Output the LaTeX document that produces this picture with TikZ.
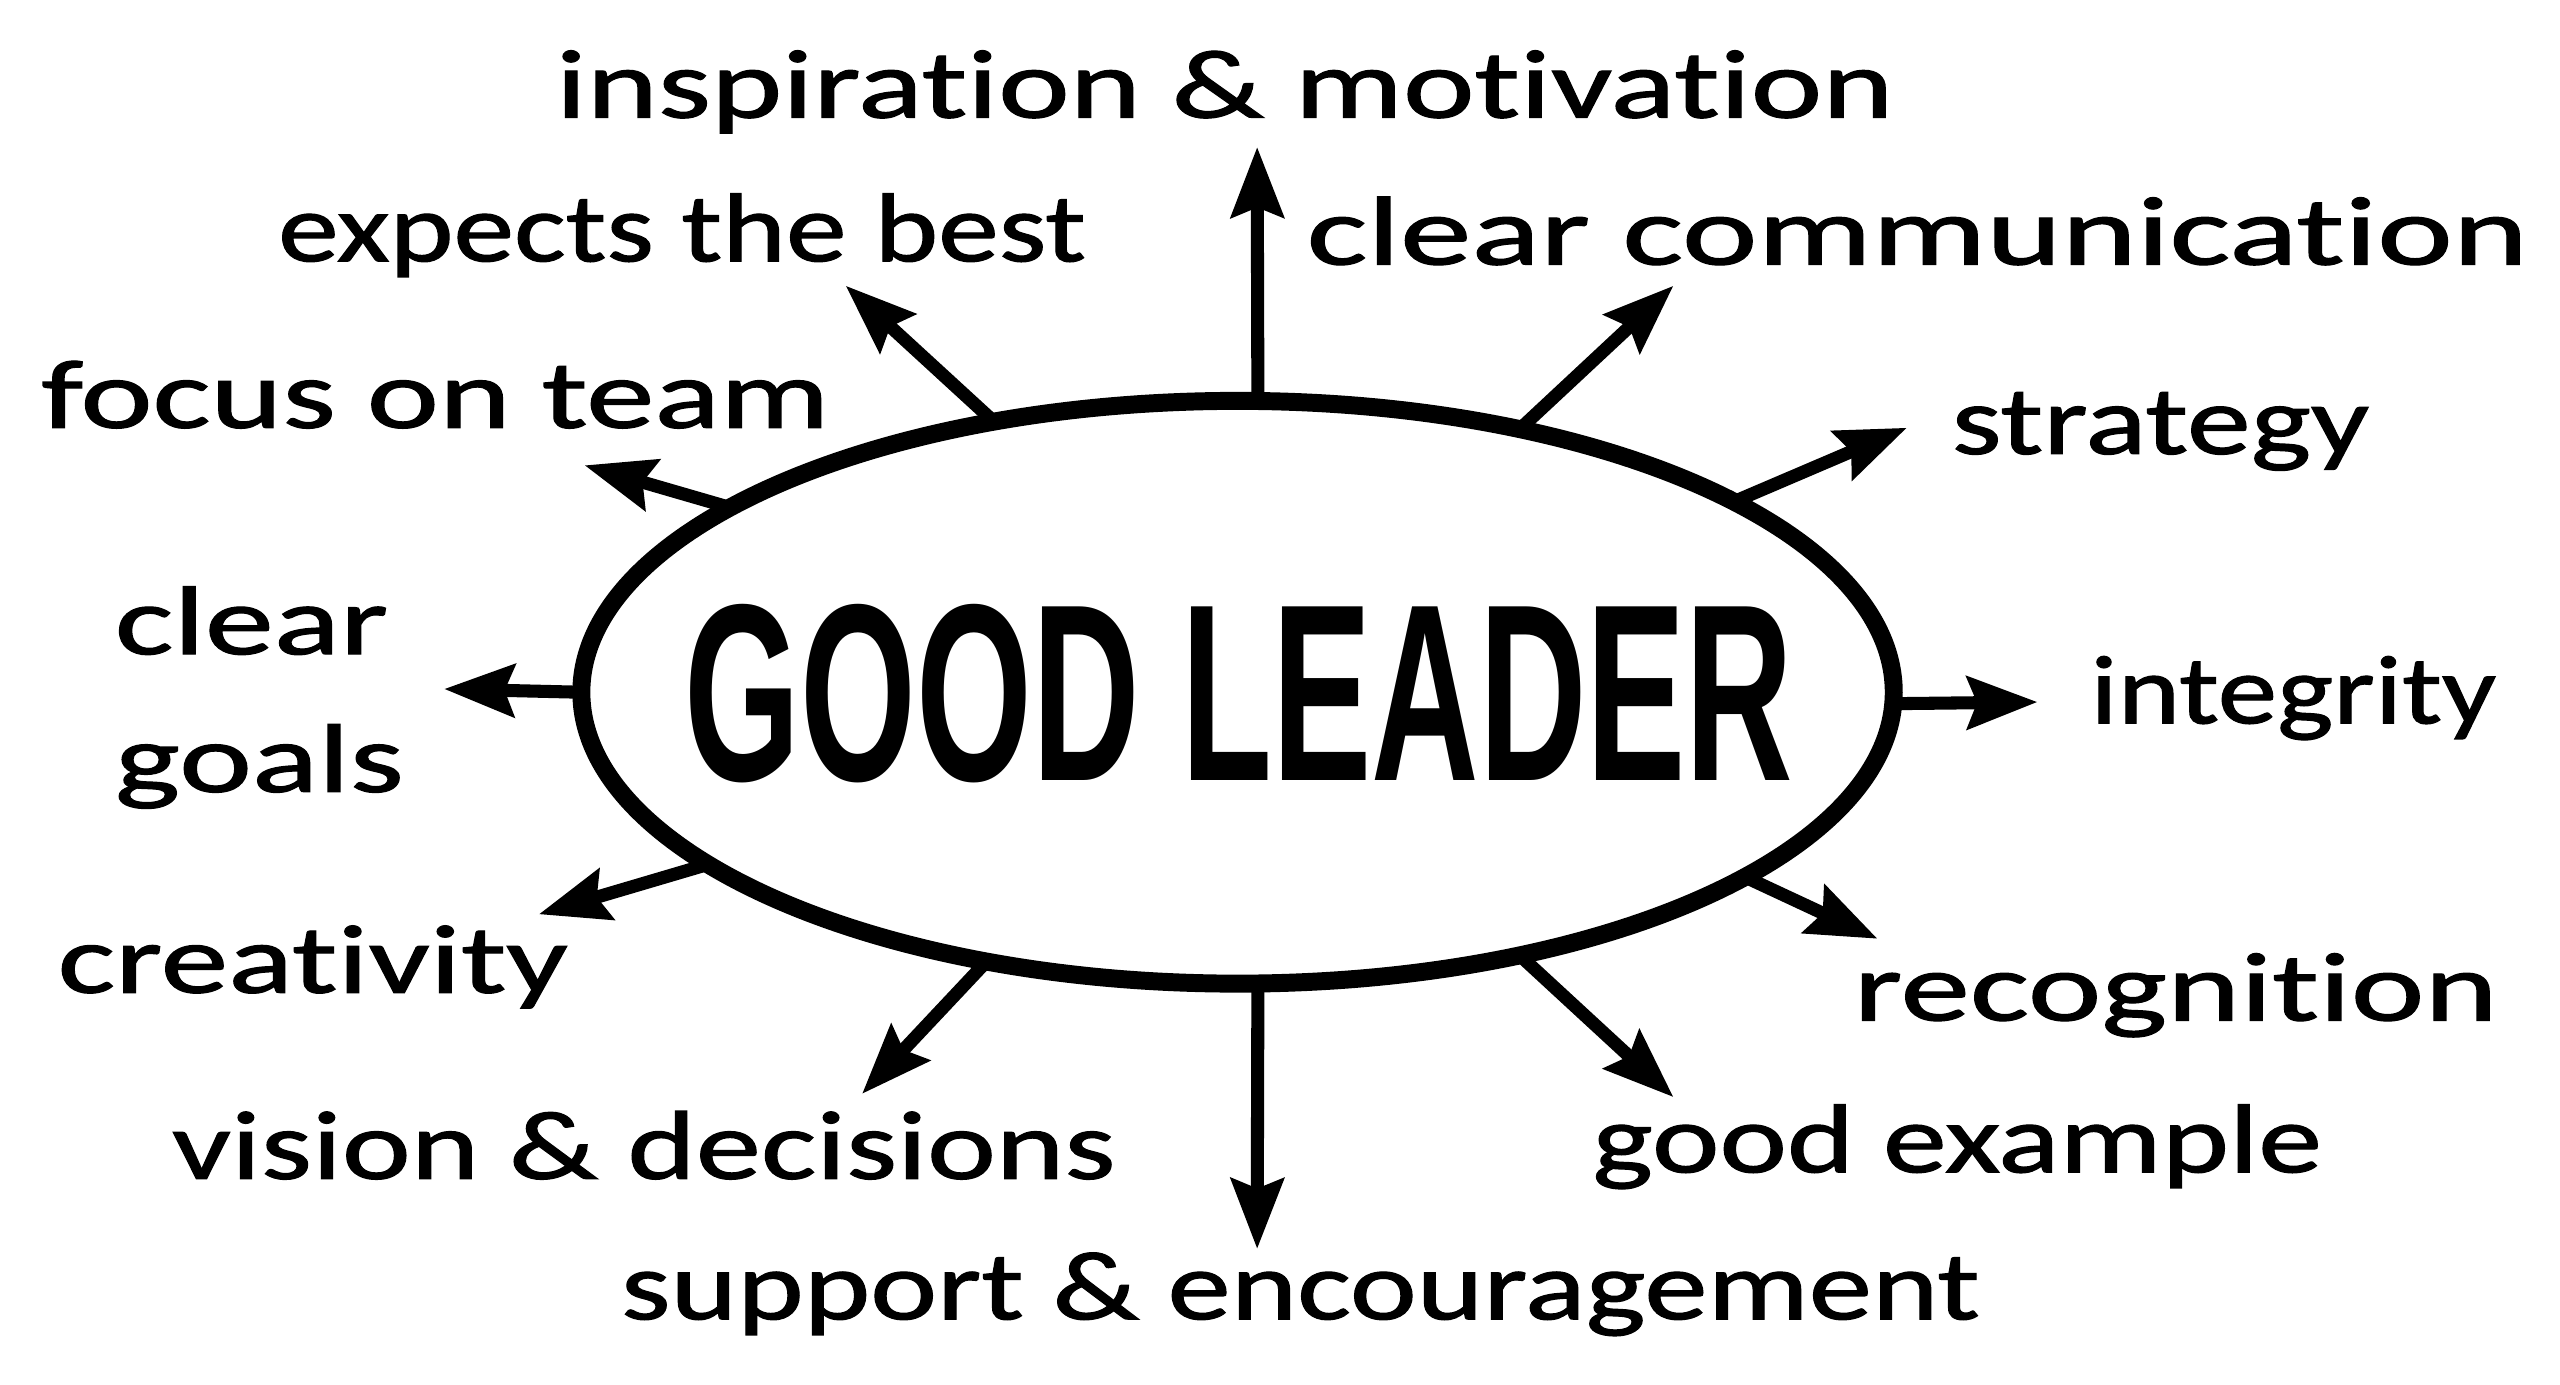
\documentclass[tikz,border=0pt]{standalone}
\usepackage{fontspec}
\usepackage{graphicx}
\setmainfont{Carlito}[FakeStretch=1.3, FakeBold=1.2, Ligatures=NoCommon]
\newfontfamily\bannerfont{Liberation Sans}[FakeStretch=0.59]
\usetikzlibrary{shapes.geometric, arrows.meta}
\newcommand{\wide}[2]{\scalebox{#1}[1]{#2}}
\tikzstyle{hub} = [ellipse, minimum width=16.08cm, minimum height=7.14cm, inner sep=0pt, outer sep=0pt, draw=black, line width=0.22cm, fill=none]
\tikzstyle{title} = [inner sep=0pt, font=\bannerfont\bfseries\fontsize{88}{90}\selectfont]
\tikzstyle{quality} = [anchor=base west, inner sep=0pt, font=\fontsize{34}{48}\selectfont]
\tikzstyle{arrow} = [line width=0.16cm, -{Stealth[length=0.86cm, width=0.64cm, inset=0.12cm]}]

\begin{document}
\begin{tikzpicture}[x=0.02cm, y=-0.02cm]
					\useasboundingbox (0,0) rectangle (1568,848);
					\node[hub] (leader) at (758,424) {};
					\node[title] (name) at (759,425) {GOOD LEADER};
					\node[quality] (inspire) at (340,72) {\wide{1.07}{inspiration \& motivation}};
					\node[quality] (expects) at (170,160) {\wide{0.96}{expects the best}};
					\node[quality] (communicate) at (800,162) {\wide{1.13}{clear communication}};
					\node[quality] (team) at (25,262) {\wide{1.08}{focus on team}};
					\node[quality] (strategy) at (1195,278) {\wide{1.01}{strategy}};
					\node[quality, align=left] (goals) at (70,485) {\wide{1.09}{clear}\\\wide{1.09}{goals}};
					\node[quality] (integrity) at (1280,443) {\wide{0.94}{integrity}};
					\node[quality] (creative) at (35,608) {\wide{1.07}{creativity}};
					\node[quality] (recognise) at (1135,625) {\wide{1.1}{recognition}};
					\node[quality] (vision) at (105,722) {\wide{1.03}{vision \& decisions}};
					\node[quality] (example) at (975,718) {\wide{1.01}{good example}};
					\node[quality] (support) at (380,808) {support \& encouragement};
					\coordinate (tip1) at (770,90);
					\coordinate (tip2) at (1025,175);
					\coordinate (tip3) at (1168,262);
					\coordinate (tip4) at (1248,430);
					\coordinate (tip5) at (1150,575);
					\coordinate (tip6) at (1025,672);
					\coordinate (tip7) at (770,765);
					\coordinate (tip8) at (528,670);
					\coordinate (tip9) at (330,560);
					\coordinate (tip10) at (272,422);
					\coordinate (tip11) at (358,285);
					\coordinate (tip12) at (518,175);
					\draw[arrow] (leader.86) -- (tip1);
					\draw[arrow] (leader.43) -- (tip2);
					\draw[arrow] (leader.21) -- (tip3);
					\draw[arrow] (leader.-1) -- (tip4);
					\draw[arrow] (leader.-20) -- (tip5);
					\draw[arrow] (leader.-43) -- (tip6);
					\draw[arrow] (leader.-86) -- (tip7);
					\draw[arrow] (leader.227) -- (tip8);
					\draw[arrow] (leader.198) -- (tip9);
					\draw[arrow] (leader.180) -- (tip10);
					\draw[arrow] (leader.160) -- (tip11);
					\draw[arrow] (leader.132) -- (tip12);
				\end{tikzpicture}
\end{document}
